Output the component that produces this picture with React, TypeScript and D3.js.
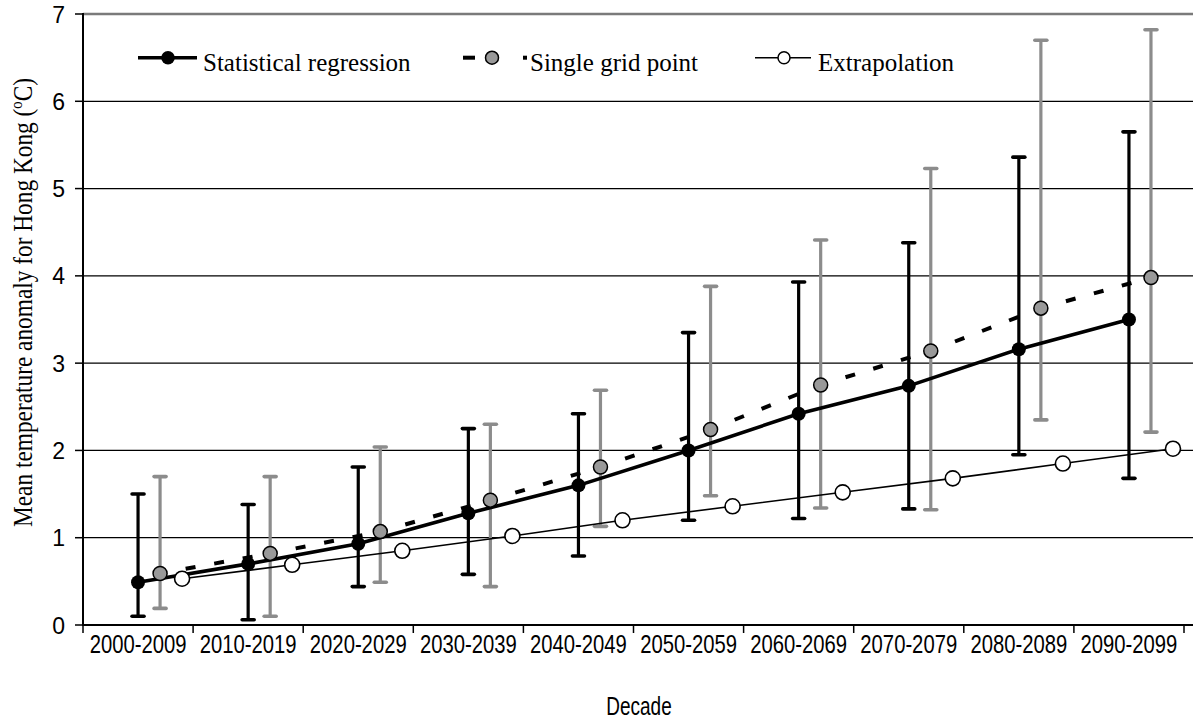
import React from 'react';
import * as d3 from 'd3';

// Decade categories on the x axis
const decades = [
  '2000-2009', '2010-2019', '2020-2029', '2030-2039', '2040-2049',
  '2050-2059', '2060-2069', '2070-2079', '2080-2089', '2090-2099',
];

// Statistical regression: mean and range
const regression = [0.49, 0.70, 0.93, 1.28, 1.60, 2.00, 2.42, 2.74, 3.16, 3.50];
const regressionLow = [0.10, 0.06, 0.44, 0.58, 0.79, 1.20, 1.22, 1.33, 1.95, 1.68];
const regressionHigh = [1.50, 1.38, 1.81, 2.25, 2.42, 3.35, 3.93, 4.38, 5.36, 5.65];

// Single grid point: mean and range
const gridPoint = [0.59, 0.82, 1.07, 1.43, 1.81, 2.24, 2.75, 3.14, 3.63, 3.98];
const gridLow = [0.19, 0.10, 0.49, 0.44, 1.13, 1.48, 1.34, 1.32, 2.35, 2.21];
const gridHigh = [1.70, 1.70, 2.04, 2.30, 2.69, 3.88, 4.41, 5.23, 6.70, 6.82];

// Linear extrapolation
const extrapolation = [0.53, 0.69, 0.85, 1.02, 1.20, 1.36, 1.52, 1.68, 1.85, 2.02];

const yTicks = [0, 1, 2, 3, 4, 5, 6, 7];

const W = 1193;
const H = 719;
const LEFT = 83;
const RIGHT = 1184;
const TOP = 14;
const BOTTOM = 625;

const GREY = '#8c8c8c';
const SERIF = '"Liberation Serif", "Times New Roman", serif';
const SANS = '"Liberation Sans", Arial, sans-serif';

export default function App() {
  const x = d3.scaleBand<string>().domain(decades).range([LEFT, RIGHT]);
  const bw = x.bandwidth();
  const y = d3.scaleLinear().domain([0, 7]).range([BOTTOM, TOP]);

  const cx = (i: number, shift: number) => (x(decades[i]) as number) + bw / 2 + shift * bw;

  const line = d3.line<[number, number]>().x((p) => p[0]).y((p) => p[1]);

  const regPts: [number, number][] = regression.map((v, i) => [cx(i, 0), y(v)]);
  const gridPts: [number, number][] = gridPoint.map((v, i) => [cx(i, 0.2), y(v)]);
  const extPts: [number, number][] = extrapolation.map((v, i) => [cx(i, 0.4), y(v)]);

  const errorBar = (
    key: string,
    px: number,
    lo: number,
    hi: number,
    color: string,
  ) => (
    <g key={key}>
      <line x1={px} x2={px} y1={y(lo)} y2={y(hi)} stroke={color} strokeWidth={3.2} />
      <line x1={px - 6} x2={px + 6} y1={y(hi)} y2={y(hi)} stroke={color} strokeWidth={3.6} strokeLinecap="round" />
      <line x1={px - 6} x2={px + 6} y1={y(lo)} y2={y(lo)} stroke={color} strokeWidth={3.6} strokeLinecap="round" />
    </g>
  );

  const legendY = 57.7;

  return (
    <svg
      width={W}
      height={H}
      style={{ position: 'absolute', left: 0, top: 0, background: '#fff' }}
    >
      <rect x={0} y={0} width={W} height={H} fill="#fff" />

      {/* horizontal gridlines */}
      {yTicks.slice(1, -1).map((t) => (
        <line key={`g${t}`} x1={LEFT} x2={W} y1={y(t)} y2={y(t)} stroke="#000" strokeWidth={1.3} />
      ))}
      {/* top border of plot area */}
      <line x1={LEFT} x2={W} y1={y(7)} y2={y(7)} stroke="#7a7a7a" strokeWidth={2.5} />

      {/* y axis */}
      <line x1={LEFT} x2={LEFT} y1={y(7) - 1} y2={BOTTOM + 1} stroke="#000" strokeWidth={2} />
      {yTicks.map((t) => (
        <g key={`yt${t}`}>
          <line x1={LEFT - 8} x2={LEFT} y1={y(t)} y2={y(t)} stroke="#000" strokeWidth={1.5} />
          <text
            x={65}
            y={y(t) + 8.5}
            textAnchor="end"
            fontFamily={SANS}
            fontSize={23}
            fill="#000"
          >
            {t}
          </text>
        </g>
      ))}

      {/* x axis */}
      <line x1={LEFT} x2={W} y1={BOTTOM} y2={BOTTOM} stroke="#000" strokeWidth={2.2} />
      {[...decades.map((d) => x(d) as number), RIGHT].map((px, i) => (
        <line key={`xt${i}`} x1={px} x2={px} y1={BOTTOM} y2={BOTTOM + 8} stroke="#000" strokeWidth={1.5} />
      ))}
      {decades.map((d) => (
        <text
          key={`xl${d}`}
          transform={`translate(${(x(d) as number) + bw / 2},653) scale(0.81,1)`}
          textAnchor="middle"
          fontFamily={SANS}
          fontSize={25}
          fill="#000"
        >
          {d}
        </text>
      ))}

      {/* axis titles */}
      <text
        transform="translate(639,714.5) scale(0.76,1)"
        textAnchor="middle"
        fontFamily={SANS}
        fontSize={25}
        fill="#000"
      >
        Decade
      </text>
      <text
        transform="translate(32,302.5) rotate(-90)"
        textAnchor="middle"
        fontFamily={SERIF}
        fontSize={27}
        textLength={449}
        lengthAdjust="spacingAndGlyphs"
        fill="#000"
      >
        Mean temperature anomaly for Hong Kong (
        <tspan fontSize={17} dy={-10}>o</tspan>
        <tspan dy={10}>C)</tspan>
      </text>

      {/* error bars */}
      {regression.map((_, i) =>
        errorBar(`eb${i}`, cx(i, 0), regressionLow[i], regressionHigh[i], '#000'),
      )}
      {gridPoint.map((_, i) =>
        errorBar(`eg${i}`, cx(i, 0.2), gridLow[i], gridHigh[i], GREY),
      )}

      {/* series lines */}
      <path d={line(extPts) ?? ''} fill="none" stroke="#000" strokeWidth={1.6} />
      <path d={line(regPts) ?? ''} fill="none" stroke="#000" strokeWidth={3.6} strokeLinejoin="round" />
      {gridPts.slice(0, -1).map((p, i) => (
        <path
          key={`dl${i}`}
          d={line([p, gridPts[i + 1]]) ?? ''}
          fill="none"
          stroke="#000"
          strokeWidth={4}
          strokeDasharray="10 19"
          strokeDashoffset={3}
        />
      ))}

      {/* markers */}
      {extPts.map((p, i) => (
        <circle key={`me${i}`} cx={p[0]} cy={p[1]} r={7.5} fill="#fff" stroke="#000" strokeWidth={1.6} />
      ))}
      {gridPts.map((p, i) => (
        <circle key={`mg${i}`} cx={p[0]} cy={p[1]} r={7} fill="#999999" stroke="#000" strokeWidth={1.5} />
      ))}
      {regPts.map((p, i) => (
        <circle key={`mr${i}`} cx={p[0]} cy={p[1]} r={7} fill="#000" />
      ))}

      {/* legend */}
      <g>
        <line x1={138} x2={197} y1={legendY} y2={legendY} stroke="#000" strokeWidth={3.6} />
        <circle cx={168} cy={legendY} r={6.8} fill="#000" />
        <text x={203} y={70.5} fontFamily={SERIF} fontSize={25} fill="#000">
          Statistical regression
        </text>

        <line x1={463} x2={475} y1={legendY} y2={legendY} stroke="#000" strokeWidth={4} />
        <line x1={523} x2={527} y1={legendY} y2={legendY} stroke="#000" strokeWidth={4} />
        <circle cx={492} cy={legendY} r={6.5} fill="#999999" stroke="#000" strokeWidth={1.5} />
        <text x={530} y={70.5} fontFamily={SERIF} fontSize={25} fill="#000">
          Single grid point
        </text>

        <line x1={755} x2={811} y1={legendY} y2={legendY} stroke="#000" strokeWidth={1.6} />
        <circle cx={784} cy={legendY} r={6} fill="#fff" stroke="#000" strokeWidth={1.5} />
        <text x={818} y={70.5} fontFamily={SERIF} fontSize={25} fill="#000">
          Extrapolation
        </text>
      </g>
    </svg>
  );
}
